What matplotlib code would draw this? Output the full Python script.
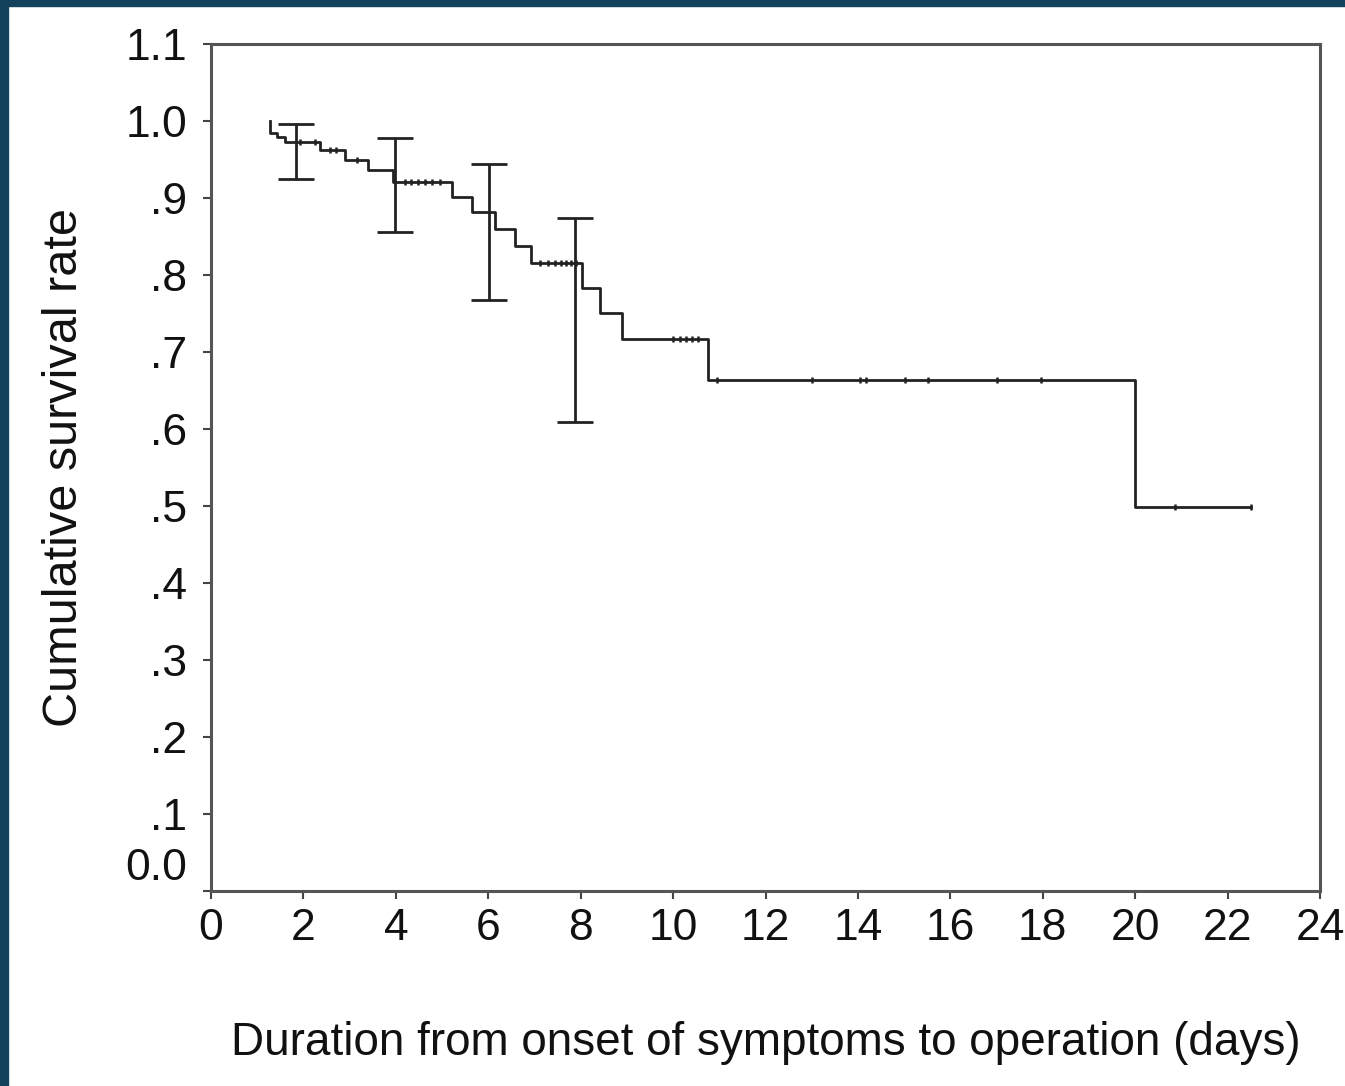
import numpy as np
import matplotlib
matplotlib.use('Agg')
import matplotlib.pyplot as plt
from matplotlib.patches import Rectangle
from matplotlib.transforms import ScaledTranslation

plt.rcParams['font.family'] = ['Liberation Sans', 'DejaVu Sans']

# Kaplan-Meier steps (time in days, survival after the step)
step_t = [1.28, 1.28, 1.43, 1.60, 2.36, 2.90, 3.40, 3.94, 5.22, 5.65, 6.15,
          6.58, 6.93, 8.03, 8.42, 8.90, 10.76, 19.99, 22.50]
step_s = [1.000, 0.984, 0.979, 0.973, 0.962, 0.949, 0.936, 0.921, 0.901, 0.882,
          0.860, 0.838, 0.816, 0.783, 0.751, 0.717, 0.664, 0.499, 0.499]

# censored observations
cens_t = [1.93, 2.25, 2.58, 2.71, 3.16, 4.20, 4.33, 4.48, 4.63, 4.78, 4.95,
          7.12, 7.29, 7.45, 7.58, 7.69, 7.79, 7.90, 10.00, 10.15, 10.28, 10.41,
          10.54, 10.95, 13.00, 14.05, 14.18, 15.02, 15.52, 17.00, 17.97, 20.87,
          22.50]

# 95% CI bars
ci_t = [1.84, 3.98, 6.02, 7.88]
ci_lo = [0.925, 0.856, 0.768, 0.609]
ci_hi = [0.996, 0.978, 0.944, 0.874]

yticks = [0.0, 0.1, 0.2, 0.3, 0.4, 0.5, 0.6, 0.7, 0.8, 0.9, 1.0, 1.1]
ylabels = ['0.0', '.1', '.2', '.3', '.4', '.5', '.6', '.7', '.8', '.9', '1.0', '1.1']
xticks = list(range(0, 25, 2))

fig = plt.figure(figsize=(13.45, 10.86), dpi=100)
ax = fig.add_axes([0.1569, 0.1796, 0.8245, 0.7799])

lc = '#222222'
ax.step(step_t, step_s, where='post', color=lc, lw=2.0)

# censor ticks sit on the curve
st = np.array(step_t)
ss = np.array(step_s)
cy = [ss[np.searchsorted(st, t, side='right') - 1] for t in cens_t]
ax.plot(cens_t, cy, ls='none', marker='|', ms=4, mew=1.8, color=lc)

lo = np.array(ci_lo)
hi = np.array(ci_hi)
ax.errorbar(ci_t, (lo + hi) / 2, yerr=(hi - lo) / 2, fmt='none',
            ecolor=lc, elinewidth=2.0, capsize=13, capthick=2.0)

ax.set_xlim(0, 24)
ax.set_ylim(0, 1.1)
ax.set_xticks(xticks)
ax.set_yticks(yticks)
ax.set_yticklabels(ylabels)
ax.tick_params(axis='both', labelsize=32, colors='#444444', labelcolor='#111111',
               length=6, width=1.5, pad=6)
ax.tick_params(axis='y', pad=11)
for s in ax.spines.values():
    s.set_color('#555555')
    s.set_linewidth(2.2)

ax.set_xlabel('Duration from onset of symptoms to operation (days)',
              fontsize=33, color='#111111', labelpad=52)
ax.set_ylabel('Cumulative survival rate', fontsize=35, color='#111111',
              labelpad=28)

# frame of the slide
fig.patches.append(Rectangle((0, 1 - 6 / 1086), 1, 6 / 1086, transform=fig.transFigure,
                             color='#13435c', zorder=10))
fig.patches.append(Rectangle((0, 0), 8 / 1345, 1, transform=fig.transFigure,
                             color='#13435c', zorder=10))

fig.canvas.draw()
lab0 = ax.yaxis.get_major_ticks()[0].label1
lab0.set_transform(lab0.get_transform() + ScaledTranslation(0, 0.27, fig.dpi_scale_trans))

fig.savefig('out.png', dpi=100)
